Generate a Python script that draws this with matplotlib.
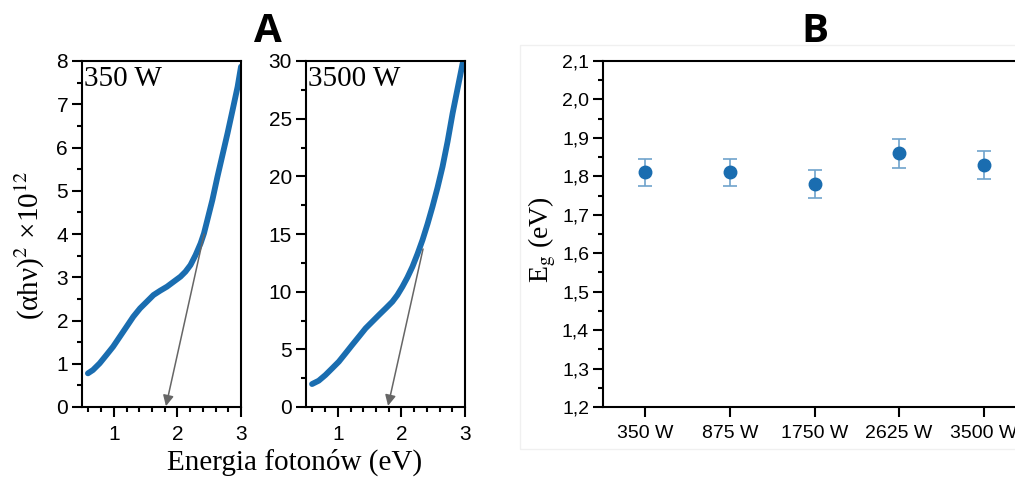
import numpy as np
import matplotlib
matplotlib.use('Agg')
import matplotlib.pyplot as plt
from matplotlib.ticker import MultipleLocator, FuncFormatter

# panel A, 350 W
e_350 = [0.593, 0.672, 0.778, 0.884, 0.989, 1.095, 1.201, 1.307, 1.413, 1.519, 1.624,
         1.730, 1.836, 1.942, 2.048, 2.127, 2.206, 2.286, 2.365, 2.418, 2.471, 2.550,
         2.630, 2.709, 2.788, 2.868, 2.947, 3.0]
a_350 = [0.778, 0.855, 1.01, 1.202, 1.395, 1.626, 1.857, 2.089, 2.281, 2.435, 2.589,
         2.690, 2.782, 2.898, 3.013, 3.129, 3.283, 3.514, 3.784, 4.015, 4.324, 4.786,
         5.326, 5.827, 6.328, 6.867, 7.407, 7.869]
arrow_350 = [(2.42, 4.0), (1.82, 0.02)]

# panel A, 3500 W
e_3500 = [0.595, 0.7, 0.805, 0.911, 1.016, 1.121, 1.226, 1.332, 1.437, 1.542, 1.647,
          1.753, 1.858, 1.937, 2.016, 2.095, 2.174, 2.253, 2.332, 2.411, 2.489, 2.568,
          2.647, 2.726, 2.805, 2.884, 2.963]
a_3500 = [1.99, 2.28, 2.77, 3.35, 3.93, 4.65, 5.38, 6.10, 6.82, 7.40, 7.98,
          8.55, 9.13, 9.71, 10.43, 11.24, 12.17, 13.27, 14.48, 15.87, 17.37, 19.02,
          20.84, 23.01, 25.46, 27.63, 29.80]
arrow_3500 = [(2.34, 13.7), (1.79, 0.1)]

# panel B
powers = ['350 W', '875 W', '1750 W', '2625 W', '3500 W']
eg = [1.81, 1.81, 1.78, 1.86, 1.83]
eg_err = [0.036, 0.036, 0.036, 0.038, 0.037]

blue = '#1a6db0'
sans = 'Liberation Sans'
serif = 'Liberation Serif'
plt.rcParams['font.family'] = sans
plt.rcParams['axes.linewidth'] = 1.5

W, H = 1015, 479
fig = plt.figure(figsize=(W / 100, H / 100), dpi=100)


def box(l, r, t, b):
    return [l / W, 1 - b / H, (r - l) / W, (b - t) / H]


def style(ax, major, minor):
    ax.tick_params(which='major', direction='out', length=7, width=1.5, labelsize=15, pad=3)
    ax.tick_params(which='minor', direction='out', length=3.5, width=1.5)
    ax.yaxis.set_major_locator(MultipleLocator(major))
    ax.yaxis.set_minor_locator(MultipleLocator(minor))


def panel(rect, x, y, arr, ymax, major, minor, label):
    ax = fig.add_axes(rect)
    ax.plot(x, y, color=blue, lw=4.2, solid_capstyle='round', solid_joinstyle='round')
    ax.annotate('', xy=arr[1], xytext=arr[0],
                arrowprops=dict(arrowstyle='-|>', color='#666666', lw=1.1,
                                mutation_scale=16, shrinkA=0, shrinkB=0))
    ax.set_xlim(0.5, 3)
    ax.set_ylim(0, ymax)
    ax.xaxis.set_major_locator(MultipleLocator(1))
    ax.xaxis.set_minor_locator(MultipleLocator(0.2))
    style(ax, major, minor)
    ax.tick_params(axis='x', pad=6)
    ax.text(0.01, 0.985, label, transform=ax.transAxes, family=serif,
            fontsize=21, va='top', ha='left')
    return ax


panel(box(82, 241, 61, 407), e_350, a_350, arrow_350, 8, 1, 0.5, '350 W')
panel(box(306, 465, 61, 407), e_3500, a_3500, arrow_3500, 30, 5, 2.5, '3500 W')

fig.text(30 / W, 1 - 245 / H, '(αhν)$^2$ ×10$^{12}$', rotation=90,
         ha='center', va='center', fontsize=21, family=serif,
         math_fontfamily='stix')
fig.text(295 / W, 1 - 462 / H, 'Energia fotonów (eV)', ha='center', va='center',
         fontsize=21, family=serif)
fig.text(268 / W, 1 - 31 / H, 'A', ha='center', va='center', fontsize=29,
         fontweight='bold', family='Open Sans')

# panel B
fig.patches.append(plt.Rectangle((520 / W, 1 - 449 / H), 500 / W, 404 / H,
                                 transform=fig.transFigure, fill=False,
                                 edgecolor='#f0f0f0', lw=1))
axb = fig.add_axes(box(603, 1026, 61, 407))
pos = np.arange(len(powers))
axb.errorbar(pos, eg, yerr=eg_err, fmt='o', color=blue, ms=9,
             ecolor='#6fa3cc', elinewidth=1.2, capsize=5, capthick=1.2)
axb.set_xlim(-0.5, len(powers) - 0.5)
axb.set_ylim(1.2, 2.1)
axb.set_xticks(pos)
axb.set_xticklabels(powers)
style(axb, 0.1, 0.05)
axb.tick_params(axis='both', labelsize=14)
axb.tick_params(axis='x', pad=6)
axb.yaxis.set_major_formatter(FuncFormatter(lambda v, p: f'{v:.1f}'.replace('.', ',')))
fig.text(542 / W, 1 - 240 / H, r'E$_\mathrm{g}$ (eV)', rotation=90, ha='center',
         va='center', fontsize=20, family=serif, math_fontfamily='stix')
fig.text(815 / W, 1 - 31 / H, 'B', ha='center', va='center', fontsize=29,
         fontweight='bold', family='Open Sans')

fig.savefig('out.png', dpi=100)
